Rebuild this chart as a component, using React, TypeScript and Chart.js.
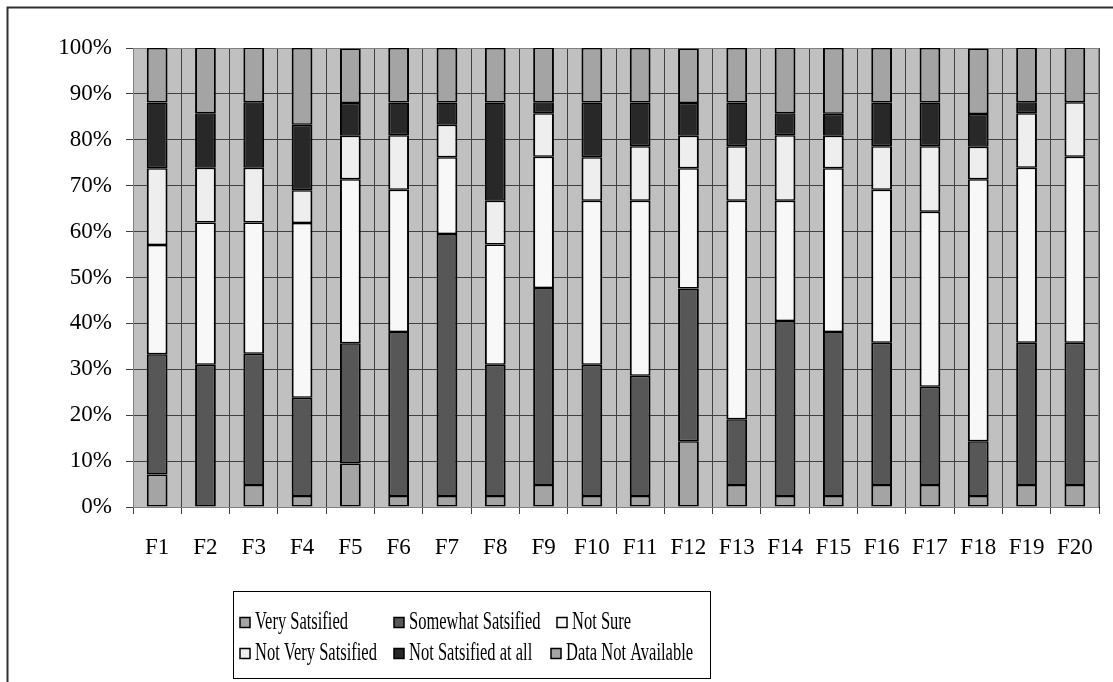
import React, { useEffect, useRef } from "react";
import { Chart, registerables } from "chart.js";

Chart.register(...registerables);

const categories = ["F1","F2","F3","F4","F5","F6","F7","F8","F9","F10","F11","F12","F13","F14","F15","F16","F17","F18","F19","F20"];

const seriesNames = ["Very Satsified","Somewhat Satsified","Not Sure","Not Very Satsified","Not Satsified at all","Data Not Available"];

const verySatisfied = [7.1,0,4.8,2.4,9.5,2.4,2.4,2.4,4.8,2.4,2.4,14.3,4.8,2.4,2.4,4.8,4.8,2.4,4.8,4.8];
const somewhatSatisfied = [26.2,31.0,28.6,21.4,26.2,35.7,57.1,28.6,42.9,28.6,26.2,33.3,14.3,38.1,35.7,31.0,21.4,11.9,31.0,31.0];
const notSure = [23.8,31.0,28.6,38.1,35.7,31.0,16.7,26.2,28.6,35.7,38.1,26.2,47.6,26.2,35.7,33.3,38.1,57.1,38.1,40.5];
const notVerySatisfied = [16.7,11.9,11.9,7.1,9.5,11.9,7.1,9.5,9.5,9.5,11.9,7.1,11.9,14.3,7.1,9.5,14.3,7.1,11.9,11.9];
const notSatisfiedAtAll = [14.3,11.9,14.3,14.3,7.1,7.1,4.8,21.4,2.4,11.9,9.5,7.1,9.5,4.8,4.8,9.5,9.5,7.1,2.4,0];
const dataNotAvailable = [11.9,14.3,11.9,16.7,11.9,11.9,11.9,11.9,11.9,11.9,11.9,11.9,11.9,14.3,14.3,11.9,11.9,14.3,11.9,11.9];

const yTicks = [0,10,20,30,40,50,60,70,80,90,100];

const seriesValues = [verySatisfied, somewhatSatisfied, notSure, notVerySatisfied, notSatisfiedAtAll, dataNotAvailable];
const seriesColors = ["#a4a4a4","#575757","#f8f8f8","#eeeeee","#282828","#a4a4a4"];

const FONT = "'Liberation Serif', 'Times New Roman', serif";

const framePlugin = {
  id: "frame",
  beforeDraw(chart: any) {
    const { ctx, chartArea } = chart;
    ctx.save();
    ctx.fillStyle = "#ffffff";
    ctx.fillRect(0, 0, chart.width, chart.height);
    ctx.fillStyle = "#c0c0c0";
    ctx.fillRect(chartArea.left, chartArea.top, chartArea.right - chartArea.left, chartArea.bottom - chartArea.top);
    ctx.strokeStyle = "#303030";
    ctx.lineWidth = 2;
    ctx.strokeRect(7.5, 7.5, chart.width + 50, chart.height + 50);
    ctx.restore();
  },
  beforeDatasetsDraw(chart: any) {
    const { ctx, chartArea } = chart;
    ctx.save();
    ctx.strokeStyle = "#808080";
    ctx.lineWidth = 1;
    ctx.strokeRect(chartArea.left + 0.5, chartArea.top + 0.5, chartArea.right - chartArea.left - 1, chartArea.bottom - chartArea.top);
    ctx.restore();
  },
  afterDraw(chart: any) {
    const { ctx } = chart;
    ctx.save();
    ctx.strokeStyle = "#000000";
    ctx.lineWidth = 1;
    ctx.strokeRect(233.5, 591.5, 477, 87);
    const rows = [[0, 1, 2], [3, 4, 5]];
    const xs = [[240, 394, 557], [240, 394, 551]];
    const ys = [622.5, 653.5];
    ctx.font = `25px ${FONT}`;
    ctx.textBaseline = "middle";
    ctx.textAlign = "left";
    rows.forEach((row, r) => {
      row.forEach((idx, c) => {
        const ds = chart.data.datasets[idx];
        const mx = xs[r][c];
        const my = ys[r] - 5;
        ctx.fillStyle = ds.backgroundColor;
        ctx.fillRect(mx, my, 10, 10);
        ctx.strokeStyle = "#000000";
        ctx.lineWidth = 1.5;
        ctx.strokeRect(mx, my, 10, 10);
        ctx.fillStyle = "#000000";
        ctx.save();
        ctx.translate(mx + 15, ys[r]);
        ctx.scale(0.66, 1);
        ctx.fillText(ds.label, 0, 0);
        ctx.restore();
      });
    });
    ctx.restore();
  },
};

export default function App() {
  const ref = useRef<HTMLCanvasElement>(null);
  useEffect(() => {
    if (!ref.current) return;
    const chart = new Chart(ref.current, {
      type: "bar",
      data: {
        labels: categories,
        datasets: seriesNames.map((name, i) => ({
          label: name,
          data: seriesValues[i],
          backgroundColor: seriesColors[i],
          borderColor: "#000000",
          borderWidth: { top: 1.5, bottom: 1.5, left: 2, right: 2 },
          borderSkipped: false,
          inflateAmount: 0,
          categoryPercentage: 1,
          barPercentage: 0.43,
        })),
      },
      options: {
        responsive: false,
        animation: false,
        devicePixelRatio: 1,
        layout: { padding: { top: 48, right: 10, left: 0, bottom: 0 } },
        plugins: {
          legend: { display: false },
          tooltip: { enabled: false },
          title: { display: false },
        },
        scales: {
          x: {
            stacked: true,
            grid: { color: "#404040", lineWidth: 1, offset: true, drawTicks: true, tickLength: 7, tickColor: "#404040" },
            border: { display: true, color: "#000000", width: 1 },
            ticks: { color: "#000000", font: { family: FONT, size: 23 }, padding: 20, maxRotation: 0, autoSkip: false },
            afterFit(scale: any) { scale.height = 175; },
          },
          y: {
            stacked: true,
            min: 0,
            max: 100,
            afterBuildTicks(scale: any) { scale.ticks = yTicks.map((v) => ({ value: v })); },
            grid: { color: "#404040", lineWidth: 1, drawTicks: true, tickLength: 7, tickColor: "#404040" },
            border: { display: true, color: "#000000", width: 1 },
            ticks: { color: "#000000", font: { family: FONT, size: 23 }, padding: 14, callback: (v: any) => `${v}%` },
            afterFit(scale: any) { scale.width = 133; },
          },
        },
      },
      plugins: [framePlugin],
    });
    return () => chart.destroy();
  }, []);
  return (
    <div style={{ position: "absolute", left: 0, top: 0, width: 1113, height: 682, background: "#fff" }}>
      <canvas ref={ref} width={1113} height={682} style={{ display: "block", width: 1113, height: 682 }} />
    </div>
  );
}
